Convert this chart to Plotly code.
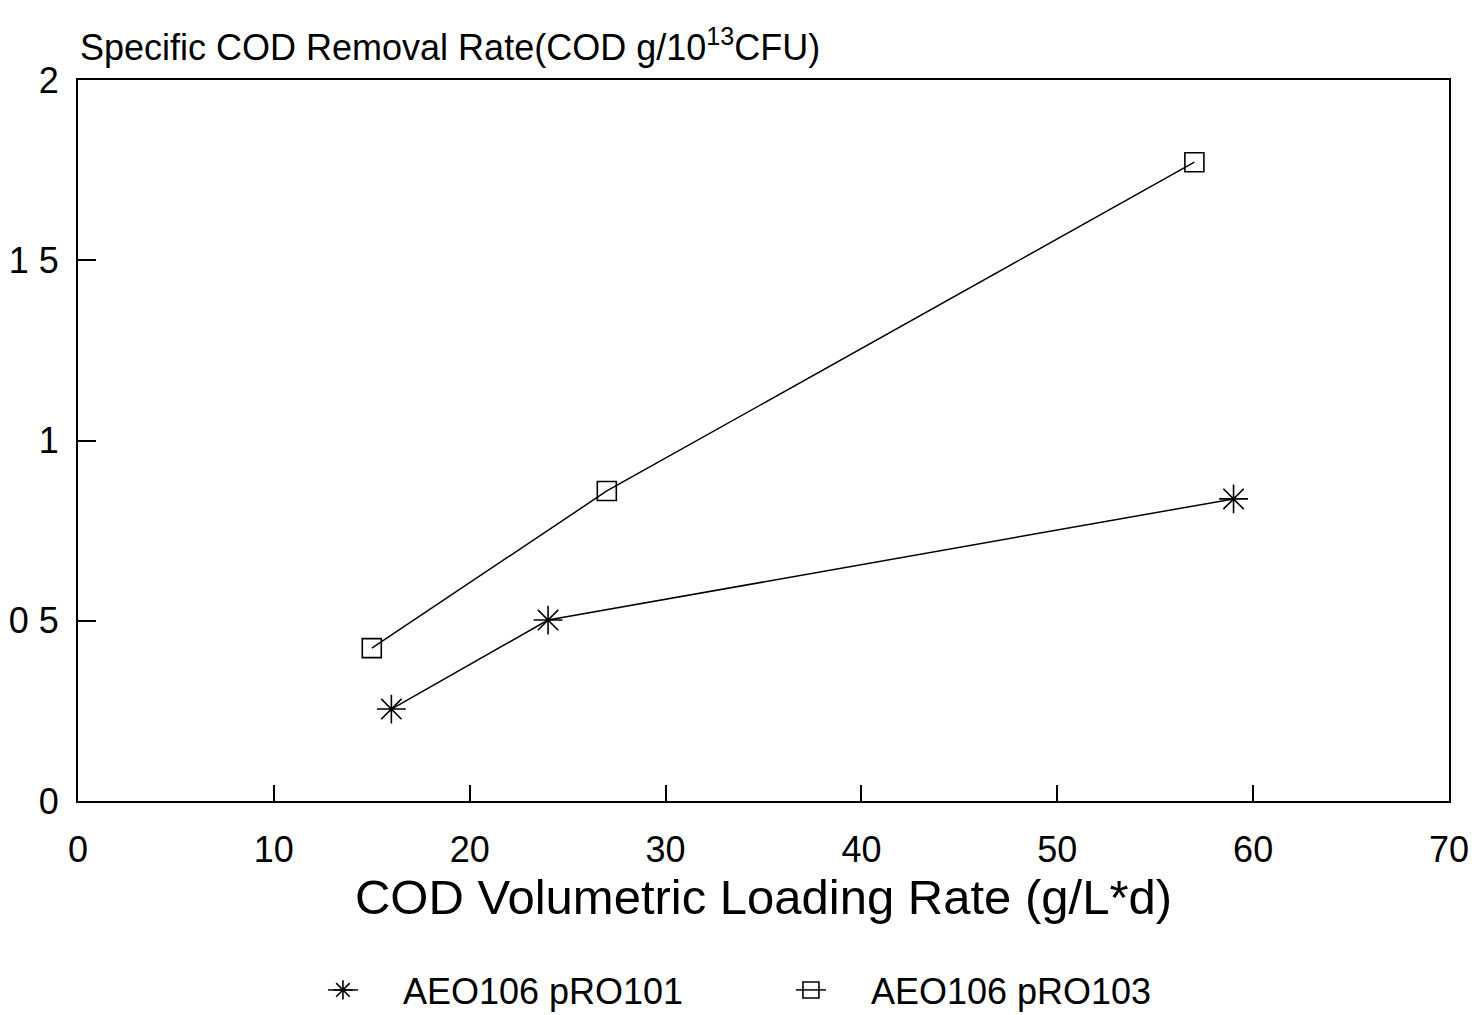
import plotly.graph_objects as go

# Data
x_pro101 = [16, 24, 59]
y_pro101 = [0.255, 0.502, 0.838]
x_pro103 = [15, 27, 57]
y_pro103 = [0.424, 0.86, 1.772]

x_ticks = [0, 10, 20, 30, 40, 50, 60, 70]
y_ticks = [0, 0.5, 1, 1.5, 2]
y_tick_labels = ["0", "0 5", "1", "1 5", "2"]

FONT = "Liberation Sans, Arial, Helvetica, sans-serif"
PAD = "\u00a0" * 4

fig = go.Figure()
fig.add_trace(go.Scatter(
    x=x_pro101, y=y_pro101, mode="lines+markers", name=PAD + "AEO106 pRO101",
    line=dict(color="black", width=1.5),
    marker=dict(symbol="asterisk-open", size=24, color="black", line=dict(color="black", width=1.6)),
))
fig.add_trace(go.Scatter(
    x=x_pro103, y=y_pro103, mode="lines+markers", name=PAD + "AEO106 pRO103",
    line=dict(color="black", width=1.5),
    marker=dict(symbol="square-open", size=19, color="black", line=dict(color="black", width=1.6)),
))

fig.update_layout(
    width=1469, height=1007,
    margin=dict(l=70, r=28, t=72, b=214, autoexpand=False),
    paper_bgcolor="white", plot_bgcolor="white",
    font=dict(family=FONT, color="black", size=32),
    showlegend=True,
    legend=dict(orientation="h", xref="container", yref="container",
                x=0.2144, xanchor="left", y=0.0248, yanchor="middle",
                font=dict(size=36), entrywidth=423, bgcolor="rgba(0,0,0,0)"),
    xaxis=dict(
        range=[0, 70], tickvals=x_ticks, ticks="inside", ticklen=16, tickwidth=1.5,
        tickcolor="black", showline=True, linecolor="black", linewidth=2, mirror=True,
        showgrid=False, zeroline=False, tickfont=dict(size=36), ticklabelstandoff=16,
        title=dict(text="COD Volumetric Loading Rate (g/L*d)", font=dict(size=49), standoff=10),
    ),
    yaxis=dict(
        range=[0, 2], tickvals=y_ticks, ticktext=y_tick_labels, ticks="inside", ticklen=18,
        tickwidth=1.5, tickcolor="black", showline=True, linecolor="black", linewidth=2,
        mirror=True, showgrid=False, zeroline=False, tickfont=dict(size=36), ticklabelstandoff=10,
    ),
)

fig.add_annotation(
    text="Specific COD Removal Rate(COD g/10<sup>13</sup>CFU)",
    xref="paper", yref="paper", x=0, y=1, xanchor="left", yanchor="bottom", yshift=10,
    showarrow=False, font=dict(size=36, family=FONT),
)

fig.write_html("out.html")
